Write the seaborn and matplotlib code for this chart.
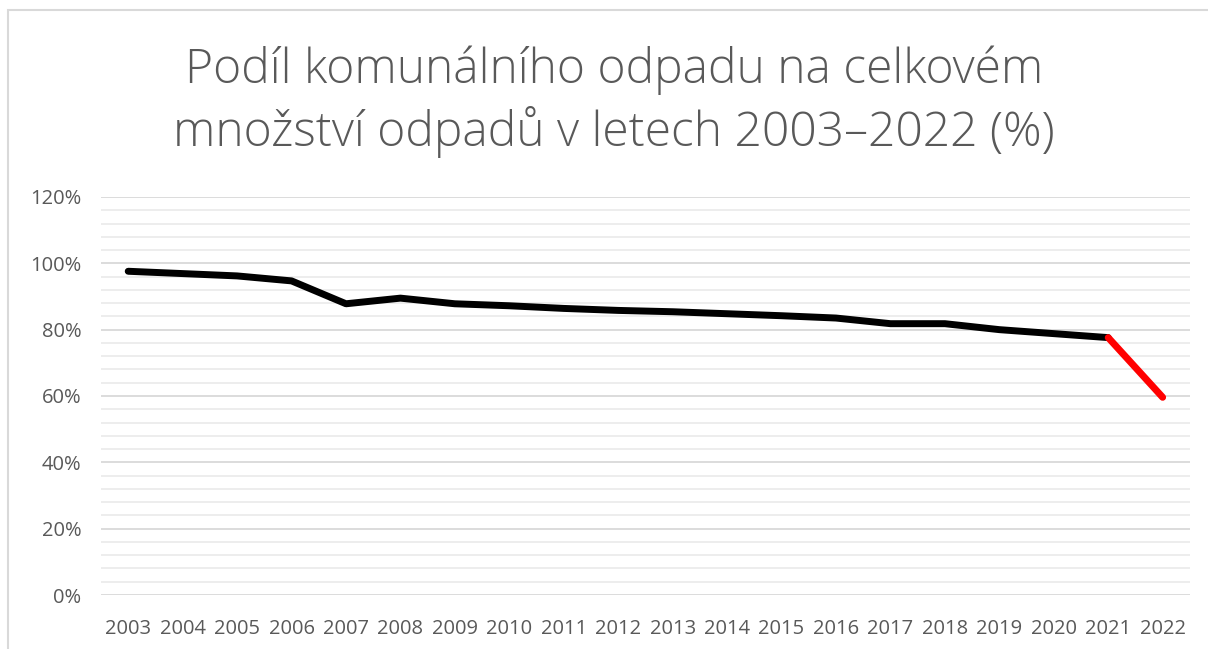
import numpy as np
import pandas as pd
import matplotlib.pyplot as plt
import seaborn as sns
from matplotlib.ticker import MultipleLocator, PercentFormatter
from matplotlib.patches import Rectangle

# data (% of municipal waste)
years = [2003, 2004, 2005, 2006, 2007, 2008, 2009, 2010, 2011, 2012,
         2013, 2014, 2015, 2016, 2017, 2018, 2019, 2020, 2021, 2022]
share = [97.6, 96.9, 96.2, 94.7, 87.8, 89.5, 87.8, 87.2, 86.4, 85.8,
         85.4, 84.8, 84.2, 83.5, 81.8, 81.8, 80.0, 78.8, 77.6, 59.6]

df = pd.DataFrame({"rok": years, "podil": share})
last_two = df.tail(2)
body = df.iloc[:-1]

sns.set_style("white")
plt.rcParams['font.family'] = ['Open Sans', 'DejaVu Sans']
text_col = "#595959"

fig = plt.figure(figsize=(12.08, 6.49), dpi=100)
ax = fig.add_axes([0.0836, 0.0832, 0.9014, 0.6133])

# outer chart border (light gray)
fig.patches.append(Rectangle((8 / 1208, -0.1), 1.2, 1 - 10 / 649 + 0.1,
                             transform=fig.transFigure, fill=False,
                             edgecolor="#d9d9d9", linewidth=1.5))

# Line
sns.lineplot(data=body, x="rok", y="podil", ax=ax, color="black",
             linewidth=5, solid_capstyle="round", solid_joinstyle="round",
             zorder=3)
sns.lineplot(data=last_two, x="rok", y="podil", ax=ax, color="red",
             linewidth=5, solid_capstyle="round", zorder=4)

ax.set_xlim(years[0] - 0.5, years[-1] + 0.5)
ax.set_ylim(0, 120)
ax.set_xticks(years)
ax.set_xticklabels([str(y) for y in years])
ax.yaxis.set_major_locator(MultipleLocator(20))
ax.yaxis.set_minor_locator(MultipleLocator(4))
ax.yaxis.set_major_formatter(PercentFormatter(decimals=0))

ax.grid(which="major", axis="y", color="#d9d9d9", linewidth=1.3, zorder=0)
ax.grid(which="minor", axis="y", color="#ececec", linewidth=1.3, zorder=0)
ax.set_axisbelow(True)
for s in ax.spines.values():
    s.set_visible(False)

ax.tick_params(axis="both", which="both", length=0, labelsize=14.5,
               labelcolor=text_col)
ax.tick_params(axis="x", pad=17)
ax.tick_params(axis="y", pad=14)
ax.set_xlabel("")
ax.set_ylabel("")

fig.text(0.508, 0.843, "Podíl komunálního odpadu na celkovém\nmnožství odpadů v letech 2003–2022 (%)",
         ha="center", va="center", fontsize=34.6, color=text_col,
         linespacing=1.28, fontweight="light")

fig.savefig("out.png", dpi=100)
